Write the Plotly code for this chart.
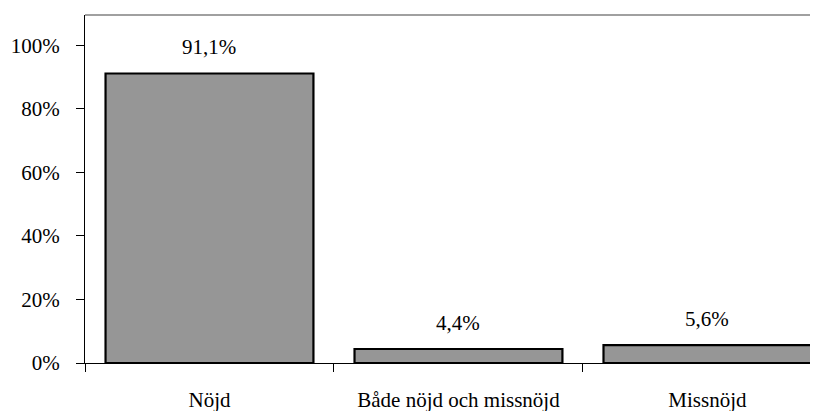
import plotly.graph_objects as go

categories = ["Nöjd", "Både nöjd och missnöjd", "Missnöjd"]
values = [91.1, 4.4, 5.6]
y_ticks = [0, 20, 40, 60, 80, 100]
y_tick_labels = ["0%", "20%", "40%", "60%", "80%", "100%"]

FONT = "Liberation Serif"

fig = go.Figure()
fig.add_trace(go.Bar(
    x=categories, y=values, width=0.835,
    marker=dict(color="#969696", line=dict(color="black", width=2.2)),
    hoverinfo="skip",
))

for c, v in zip(categories, values):
    fig.add_annotation(
        x=c, y=v, text=f"{v:.1f}".replace(".", ",") + "%",
        showarrow=False, yanchor="bottom", yshift=12,
        font=dict(family=FONT, size=21, color="black"),
    )

# top border of plot area
fig.add_shape(type="line", xref="paper", yref="paper", x0=0, x1=1, y0=1, y1=1,
              line=dict(color="#808080", width=1.5))

# page body has an 8px margin: shrink figure so the visible area matches
fig.update_layout(
    width=810, height=403,
    margin=dict(l=77, r=0, t=7, b=48),
    paper_bgcolor="white", plot_bgcolor="white",
    showlegend=False,
    font=dict(family=FONT, size=21, color="black"),
)
fig.update_xaxes(
    type="category", range=[-0.5, 2.444],
    tickson="boundaries", ticks="outside", ticklen=8, tickcolor="black",
    showline=True, linecolor="black", linewidth=1.2,
    showgrid=False, zeroline=False, ticklabelstandoff=18,
    tickfont=dict(family=FONT, size=21, color="black"),
)
fig.update_yaxes(
    range=[0, 109.5], tickmode="array", tickvals=y_ticks, ticktext=y_tick_labels,
    ticks="outside", ticklen=8, tickcolor="black",
    showline=True, linecolor="black", linewidth=1.2,
    showgrid=False, zeroline=False, ticklabelstandoff=12,
    tickfont=dict(family=FONT, size=21, color="black"),
)

fig.write_html("out.html")
